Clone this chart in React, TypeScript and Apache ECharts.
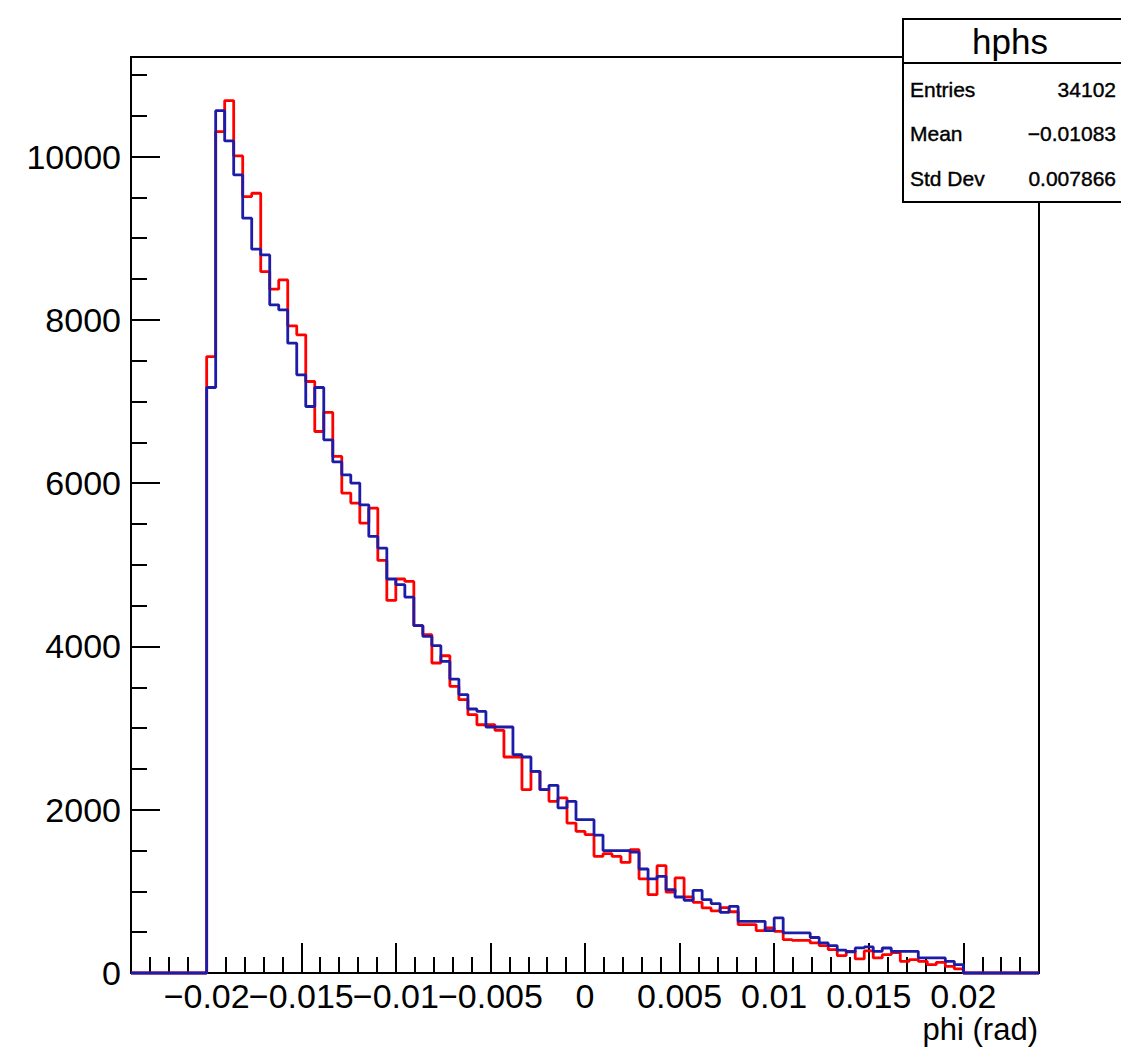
import React, { useEffect, useRef } from "react";
import * as echarts from "echarts";

// Axis / histogram layout
const X_MIN = -0.024;
const X_MAX = 0.024;
const HIST_LOW = -0.02;
const HIST_HIGH = 0.02;
const Y_MIN = 0;
const Y_MAX = 11220;

// Tick labels
const X_TICK_VALUES = [-0.02, -0.015, -0.01, -0.005, 0, 0.005, 0.01, 0.015, 0.02];
const X_TICK_LABELS = ["\u22120.02", "\u22120.015", "\u22120.01", "\u22120.005", "0", "0.005", "0.01", "0.015", "0.02"];
const X_MINOR_TICKS = [
  -0.023, -0.022, -0.021, -0.019, -0.018, -0.017, -0.016, -0.014, -0.013, -0.012, -0.011,
  -0.009, -0.008, -0.007, -0.006, -0.004, -0.003, -0.002, -0.001, 0.001, 0.002, 0.003, 0.004,
  0.006, 0.007, 0.008, 0.009, 0.011, 0.012, 0.013, 0.014, 0.016, 0.017, 0.018, 0.019, 0.021,
  0.022, 0.023,
];
const Y_TICK_VALUES = [0, 2000, 4000, 6000, 8000, 10000];
const Y_TICK_LABELS = ["0", "2000", "4000", "6000", "8000", "10000"];
const Y_MINOR_TICKS = [500, 1000, 1500, 2500, 3000, 3500, 4500, 5000, 5500, 6500, 7000, 7500, 8500, 9000, 9500, 10500, 11000];

// Bin contents (84 bins between HIST_LOW and HIST_HIGH)
const redCounts = [
  7551, 10306, 10686, 10008, 9510, 9551, 8592, 8376, 8490, 7927,
  7817, 7245, 6633, 6866, 6327, 5878, 5756, 5511, 5694, 5053,
  4564, 4826, 4796, 4254, 4144, 3797, 3886, 3511, 3348, 3164,
  3041, 3041, 2973, 2646, 2646, 2246, 2470, 2246, 2103, 2144,
  1837, 1735, 1695, 1429, 1462, 1429, 1355, 1510, 1152, 960,
  1315, 990, 1164, 931, 866, 797, 760, 800, 750, 593,
  593, 519, 552, 511, 409, 400, 400, 368, 335, 286,
  213, 266, 172, 270, 185, 225, 249, 143, 164, 143,
  102, 131, 82, 50,
];
const blueCounts = [
  7172, 10563, 10192, 9776, 9246, 8866, 8796, 8184, 8123, 7715,
  7327, 6939, 7172, 6531, 6260, 6102, 6001, 5735, 5347, 5205,
  4826, 4756, 4605, 4254, 4123, 4009, 3817, 3600, 3410, 3234,
  3204, 3013, 3013, 3013, 2674, 2646, 2470, 2246, 2299, 2022,
  2103, 1878, 1878, 1690, 1499, 1499, 1499, 1480, 1274, 1152,
  1184, 1021, 931, 890, 1013, 898, 850, 743, 816, 633,
  633, 633, 519, 674, 491, 491, 491, 435, 368, 335,
  280, 260, 307, 320, 266, 306, 266, 266, 266, 185,
  185, 185, 143, 103,
];

const STATS_TITLE = "hphs";
const STATS_NAMES = ["Entries", "Mean", "Std Dev"];
const STATS_VALUES = ["34102", "\u22120.01083", "0.007866"];
const X_TITLE = "phi (rad)";

const FONT = "'Liberation Sans', Arial, Helvetica, sans-serif";

function stepData(counts: number[]): number[][] {
  const n = counts.length;
  const w = (HIST_HIGH - HIST_LOW) / n;
  const pts: number[][] = [[X_MIN, 0]];
  counts.forEach((c, i) => pts.push([HIST_LOW + i * w, c]));
  pts.push([HIST_HIGH, 0]);
  pts.push([X_MAX, 0]);
  return pts;
}

function nearestLabel(values: number[], labels: string[], v: number): string {
  let best = 0;
  for (let i = 1; i < values.length; i++) {
    if (Math.abs(values[i] - v) < Math.abs(values[best] - v)) best = i;
  }
  return labels[best];
}

export default function App() {
  const ref = useRef<HTMLDivElement>(null);

  useEffect(() => {
    if (!ref.current) return;
    const chart = echarts.init(ref.current, null, { renderer: "svg" });
    const grid = { left: 131, right: 82, top: 57, bottom: 82 };
    const boxX = 903;
    const boxY = 19;
    const boxW = 240;
    const boxH = 183;
    const statText = {
      fill: "#000",
      stroke: "#000",
      lineWidth: 0.4,
      font: `21px ${FONT}`,
      textVerticalAlign: "middle",
    };

    // split major x ticks in two interleaved groups so that no label gets auto-hidden
    const xGroupA = X_TICK_VALUES.filter((_, i) => i % 2 === 0);
    const xGroupB = X_TICK_VALUES.filter((_, i) => i % 2 === 1);

    const majorXAxis = (values: number[], withLine: boolean) => ({
      type: "value",
      min: X_MIN,
      max: X_MAX,
      position: "bottom",
      offset: 0,
      axisLine: { show: withLine, onZero: false, lineStyle: { color: "#000", width: 2 } },
      axisTick: { show: true, inside: true, length: 30, customValues: values, lineStyle: { color: "#000", width: 2 } },
      axisLabel: {
        show: true,
        customValues: values,
        margin: 6,
        color: "#000",
        fontSize: 34,
        fontFamily: FONT,
        hideOverlap: false,
        showMinLabel: true,
        showMaxLabel: true,
        formatter: (v: number) => nearestLabel(X_TICK_VALUES, X_TICK_LABELS, v),
      },
      splitLine: { show: false },
    });

    const option: any = {
      animation: false,
      backgroundColor: "#ffffff",
      grid: { ...grid, show: true, borderColor: "#000", borderWidth: 2, backgroundColor: "transparent" },
      xAxis: [
        majorXAxis(xGroupA, true),
        majorXAxis(xGroupB, false),
        {
          type: "value",
          min: X_MIN,
          max: X_MAX,
          position: "bottom",
          offset: 0,
          axisLine: { show: false, onZero: false },
          axisTick: { show: true, inside: true, length: 16, customValues: X_MINOR_TICKS, lineStyle: { color: "#000", width: 2 } },
          axisLabel: { show: false },
          splitLine: { show: false },
        },
      ],
      yAxis: [
        {
          type: "value",
          min: Y_MIN,
          max: Y_MAX,
          axisLine: { show: true, onZero: false, lineStyle: { color: "#000", width: 2 } },
          axisTick: { show: true, inside: true, length: 29, customValues: Y_TICK_VALUES, lineStyle: { color: "#000", width: 2 } },
          axisLabel: {
            show: true,
            customValues: Y_TICK_VALUES,
            margin: 10,
            color: "#000",
            fontSize: 34,
            fontFamily: FONT,
            showMinLabel: true,
            showMaxLabel: true,
            formatter: (v: number) => nearestLabel(Y_TICK_VALUES, Y_TICK_LABELS, v),
          },
          splitLine: { show: false },
        },
        {
          type: "value",
          min: Y_MIN,
          max: Y_MAX,
          position: "left",
          offset: 0,
          axisLine: { show: false, onZero: false },
          axisTick: { show: true, inside: true, length: 16, customValues: Y_MINOR_TICKS, lineStyle: { color: "#000", width: 2 } },
          axisLabel: { show: false },
          splitLine: { show: false },
        },
      ],
      series: [
        {
          name: "red",
          type: "line",
          step: "end",
          data: stepData(redCounts),
          showSymbol: false,
          symbol: "none",
          clip: false,
          z: 3,
          lineStyle: { color: "#ff0000", width: 2.8 },
          itemStyle: { color: "#ff0000" },
        },
        {
          name: "blue",
          type: "line",
          step: "end",
          data: stepData(blueCounts),
          showSymbol: false,
          symbol: "none",
          clip: false,
          z: 4,
          lineStyle: { color: "#1c1ca8", width: 2.8 },
          itemStyle: { color: "#1c1ca8" },
        },
      ],
      graphic: [
        {
          type: "text",
          right: 83,
          top: 1014,
          z: 10,
          style: { text: X_TITLE, fill: "#000", font: `31px ${FONT}`, textAlign: "right" },
        },
        {
          type: "group",
          z: 20,
          children: [
            {
              type: "rect",
              shape: { x: boxX, y: boxY, width: boxW, height: boxH },
              style: { fill: "#fff", stroke: "#000", lineWidth: 2 },
              z: 20,
            },
            {
              type: "line",
              shape: { x1: boxX, y1: 63, x2: boxX + boxW, y2: 63 },
              style: { stroke: "#000", lineWidth: 2 },
              z: 21,
            },
            {
              type: "text",
              x: 1010,
              y: 41,
              z: 21,
              style: { text: STATS_TITLE, fill: "#000", font: `35px ${FONT}`, textAlign: "center", textVerticalAlign: "middle" },
            },
            ...STATS_NAMES.map((name, i) => ({
              type: "text",
              x: 910,
              y: 89 + i * 44.5,
              z: 21,
              style: { ...statText, text: name, textAlign: "left" },
            })),
            ...STATS_VALUES.map((val, i) => ({
              type: "text",
              x: 1116,
              y: 89 + i * 44.5,
              z: 21,
              style: { ...statText, text: val, textAlign: "right" },
            })),
          ],
        },
      ],
    };
    chart.setOption(option);
    return () => chart.dispose();
  }, []);

  return (
    <div
      ref={ref}
      style={{ position: "fixed", left: 0, top: 0, width: 1121, height: 1055, background: "#fff" }}
    />
  );
}
